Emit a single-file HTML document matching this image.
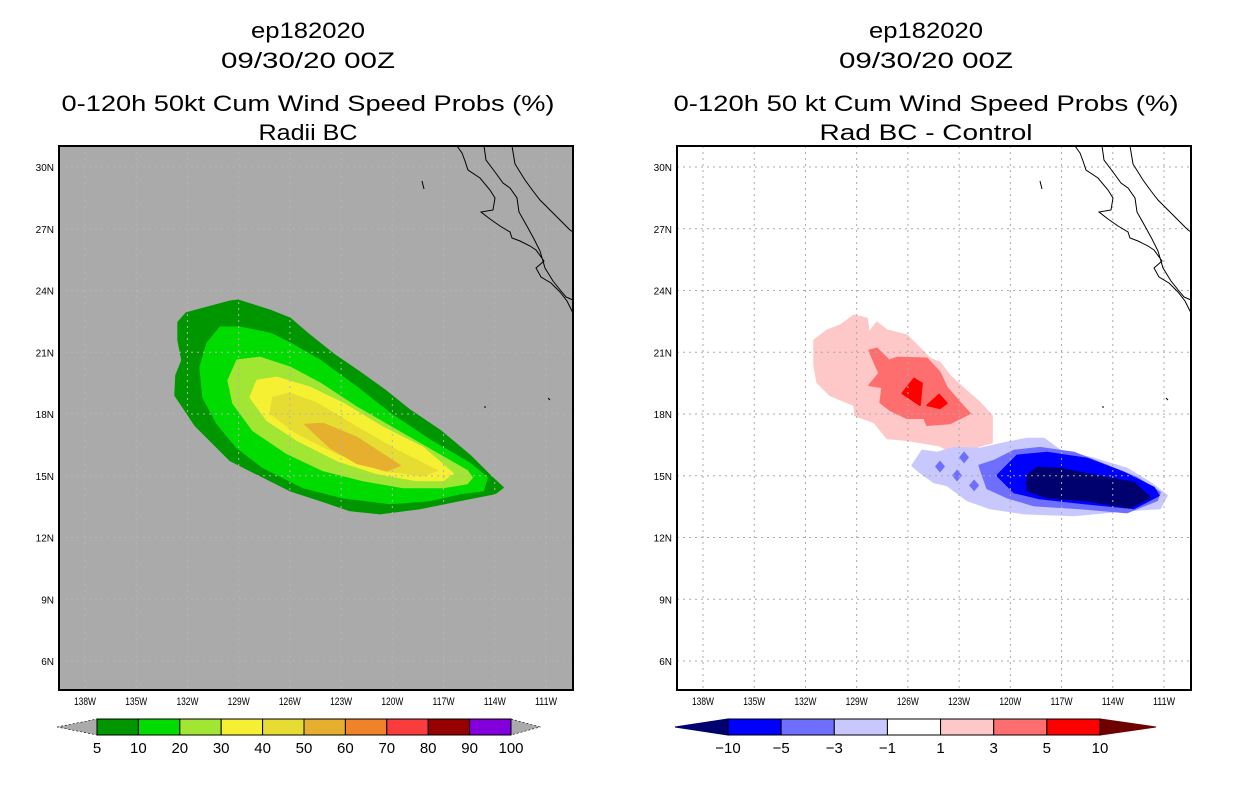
<!DOCTYPE html>
<html><head><meta charset="utf-8">
<style>
body{margin:0;background:#fff;width:1236px;height:800px;overflow:hidden;font-family:"Liberation Sans",sans-serif;}
svg text{font-family:"Liberation Sans",sans-serif;}
</style></head>
<body>
<svg id="chart" width="1236" height="800" viewBox="0 0 1236 800" xmlns="http://www.w3.org/2000/svg"></svg>
<script>
// ---------- data ----------
const lonTicks=[-138,-135,-132,-129,-126,-123,-120,-117,-114,-111];
const latTicks=[30,27,24,21,18,15,12,9,6];
const leftLevels=[5,10,20,30,40,50,60,70,80,90,100];
const leftColors=["#009600","#00dc00","#a0e632","#f5f032","#e6dc32","#e6af2d","#f08228","#fa3c3c","#960000","#8200dc"];
const rightLevels=[-10,-5,-3,-1,1,3,5,10];
const rightColors=["#00006e","#0000ff","#6e6eff","#c8c8ff","#ffffff","#ffc8c8","#ff6e6e","#ff0000","#6e0000"];
// left panel contours [lon,lat]
const prob5=[[-132.55,22.46],[-132.08,22.9],[-131.5,23.04],[-129.5,23.48],[-129.04,23.53],[-127.16,23.04],[-125.99,22.65],[-124.82,21.82],[-123.35,20.85],[-121.89,20.02],[-120.42,19.15],[-118.96,18.18],[-117.2,17.2],[-115.45,15.99],[-114.27,15.01],[-113.51,14.43],[-113.98,14.14],[-116.03,13.8],[-118.38,13.41],[-120.72,13.16],[-122.48,13.31],[-124.23,13.8],[-125.99,14.28],[-127.75,15.01],[-129.5,15.74],[-130.68,16.72],[-131.56,17.45],[-132.14,18.18],[-132.73,18.91],[-132.67,19.88],[-132.32,20.61],[-132.55,21.58]];
const prob10=[[-130.09,22.21],[-128.92,22.21],[-127.16,21.92],[-125.99,21.44],[-124.23,20.61],[-122.07,19.29],[-120.13,18.03],[-117.79,16.72],[-115.45,15.6],[-114.45,14.91],[-114.68,14.28],[-116.03,14.14],[-117.79,13.8],[-120.13,13.65],[-122.89,13.94],[-125.23,14.43],[-127.57,15.4],[-129.1,16.37],[-130.27,17.54],[-131.09,18.81],[-131.26,20.27],[-130.85,21.44]];
const prob20=[[-129.1,20.61],[-127.75,20.75],[-125.99,20.27],[-124.23,19.49],[-122.07,18.32],[-119.72,17.2],[-117.38,16.08],[-115.62,15.25],[-115.33,14.91],[-115.62,14.62],[-117.03,14.43],[-119.37,14.43],[-121.71,14.77],[-124.06,15.26],[-126.17,16.08],[-128.16,17.2],[-129.33,18.52],[-129.62,19.63]];
const prob30=[[-127.92,19.63],[-126.75,19.78],[-124.82,19.29],[-122.89,18.52],[-120.54,17.35],[-118.2,16.37],[-116.44,15.11],[-117.03,14.77],[-118.55,14.77],[-120.89,15.11],[-123.24,15.74],[-125.58,16.72],[-127.34,17.69],[-128.33,18.81]];
const prob40=[[-126.99,18.81],[-125.99,19.0],[-124.41,18.52],[-122.07,17.35],[-119.72,16.23],[-117.38,15.25],[-118.2,15.01],[-120.54,15.25],[-123.24,16.08],[-125.58,17.06],[-127.16,18.03]];
const prob50=[[-125.11,17.49],[-124.06,17.54],[-122.07,16.86],[-119.55,15.5],[-120.31,15.25],[-122.07,15.6],[-123.65,16.37]];
// right panel contours
const diffP1=[[-131.5,21.58],[-130.74,22.07],[-129.97,22.31],[-129.15,22.8],[-128.39,22.65],[-128.28,21.97],[-127.81,22.46],[-127.22,22.07],[-126.05,21.83],[-125.29,21.2],[-124.7,20.69],[-124.12,20.5],[-123.53,19.86],[-122.71,19.23],[-121.77,18.55],[-121.07,17.92],[-121.07,16.61],[-122.36,16.31],[-123.12,15.97],[-124.12,16.46],[-126.05,16.72],[-127.22,16.81],[-127.98,17.59],[-129.1,17.92],[-129.15,18.42],[-130.56,18.91],[-131.32,19.54],[-131.5,20.37]];
const diffP3=[[-128.28,21.09],[-127.81,21.19],[-127.1,20.61],[-126.63,20.75],[-124.88,20.71],[-124.12,20.02],[-123.71,19.29],[-122.94,18.56],[-122.36,18.03],[-123.53,17.54],[-124.88,17.45],[-125.05,17.79],[-126.05,17.79],[-127.04,18.18],[-127.63,18.56],[-127.51,19.29],[-128.28,19.39],[-127.69,19.98]];
const diffP5a=[[-125.64,19.73],[-125.17,19.49],[-125.29,18.42],[-126.34,19.0]];
const diffP5b=[[-124.17,18.95],[-123.71,18.52],[-124.12,18.27],[-124.88,18.42]];
const diffN1=[[-125.76,15.5],[-125.17,16.23],[-124.29,16.13],[-123.3,16.37],[-121.77,16.33],[-120.19,16.62],[-119.02,16.81],[-118.02,16.81],[-117.09,16.23],[-115.09,15.84],[-113.16,15.35],[-111.81,14.67],[-110.82,14.04],[-111.23,13.41],[-113.16,13.31],[-116.27,13.07],[-119.2,13.16],[-121.19,13.41],[-122.53,13.8],[-123.71,14.53],[-124.47,14.67],[-125.29,15.16]];
const diffN3=[[-121.83,15.5],[-120.95,15.74],[-119.78,16.23],[-118.26,16.37],[-116.27,16.13],[-114.33,15.5],[-112.58,14.91],[-111.23,14.19],[-111.4,13.8],[-113.16,13.21],[-115.91,13.41],[-118.61,13.55],[-120.19,13.94],[-121.36,14.38]];
const diffN3spots=[[-124.12,15.45],[-123.12,15.01],[-122.12,14.53],[-122.71,15.89]];
const diffN5=[[-120.78,15.01],[-119.61,15.99],[-117.85,16.13],[-115.5,15.84],[-113.34,15.16],[-111.58,14.43],[-111.29,14.04],[-112.75,13.41],[-115.68,13.65],[-118.26,13.89],[-119.78,14.18]];
const diffN10=[[-119.02,15.01],[-118.43,15.4],[-117.09,15.35],[-114.33,14.91],[-112.75,14.67],[-111.81,13.94],[-112.99,13.45],[-115.68,13.8],[-117.85,13.94],[-119.02,14.28]];

// ---------- drawing ----------
const NS="http://www.w3.org/2000/svg";
const svg=document.getElementById('chart');
function mk(tag,attrs,parent){const e=document.createElementNS(NS,tag);for(const k in attrs)e.setAttribute(k,attrs[k]);(parent||svg).appendChild(e);return e;}
const FRAME={y0:146,y1:690,w:514};
function xScale(ox){return lon=>ox+26+(lon+138)*(461/27);}
function yScale(lat){return 167+(30-lat)*(494/24);}
function polyStr(pts,xs){return pts.map(p=>xs(p[0]).toFixed(1)+","+yScale(p[1]).toFixed(1)).join(" ");}
function txt(x,y,s,size,anchor,parent){const t=mk('text',{x:x,y:y,'font-size':size,'text-anchor':anchor||'middle',fill:'#000'},parent);t.textContent=s;return t;}

function panel(ox,bg,name,titles,widths){
  const g=mk('g',{});
  
  
  const cx=ox+249;
  titles.forEach((s,i)=>{const t=txt(cx,[38,68,111,140][i],s,22,'middle',g);
    t.setAttribute('textLength',widths[i]);t.setAttribute('lengthAdjust','spacingAndGlyphs');
    });
  const bgr=mk('rect',{x:ox,y:FRAME.y0,width:FRAME.w,height:FRAME.y1-FRAME.y0,fill:bg},g);
  
  return g;
}
function grid(ox,g,col){
  const xs=xScale(ox);
  lonTicks.forEach(l=>{const ln=mk('line',{x1:xs(l),x2:xs(l),y1:FRAME.y0,y2:FRAME.y1,stroke:col,'stroke-width':1,'stroke-dasharray':'2,4'},g);
    });
  latTicks.forEach(l=>{const ln=mk('line',{x1:ox,x2:ox+FRAME.w,y1:yScale(l),y2:yScale(l),stroke:col,'stroke-width':1,'stroke-dasharray':'2,4'},g);
    });
}
function axes(ox,g){
  const xs=xScale(ox);
  lonTicks.forEach(l=>{const t=txt(xs(l),705,Math.abs(l)+'W',11,'middle',g);t.setAttribute('textLength',22);t.setAttribute('lengthAdjust','spacingAndGlyphs');
    });
  latTicks.forEach(l=>{const t=txt(ox-5,yScale(l)+4,l+'N',10,'end',g);
    });
  const f=mk('rect',{x:ox,y:FRAME.y0,width:FRAME.w,height:FRAME.y1-FRAME.y0,fill:'none',stroke:'#000','stroke-width':2},g);
  
}
function coast(ox,g){
  const d="M457,146 L462,153 L465,161 L468,170 L480,178 L490,190 L495,198 L493,210 L481,212 L490,219 L500,226 L510,232 L512,238 L520,241 L530,246 L536,250 L544,261 L536,268 L541,277 L551,283 L560,292 L567,301 L573,313 M484,146 L486,160 L495,172 L503,183 L510,188 L517,198 L519,212 L528,228 L534,239 L540,251 L545,268 L553,281 L561,291 L566,297 L573,300 M512,146 L515,164 L525,180 L533,191 L540,200 L552,212 L562,222 L570,230 L573,232 M422,181 L424,189 M484,407 L486,407 M548,398 L550,400";
  const p=mk('path',{d:d,fill:'none',stroke:'#000','stroke-width':1,transform:'translate('+(ox-59)+',0)'},g);
  
}
function poly(pts,xs,col,g,name){const p=mk('polygon',{points:polyStr(pts,xs),fill:col,stroke:col,'stroke-width':1.5,'stroke-linejoin':'round'},g);
  return p;}

// LEFT
const L=panel(59,'#aaaaaa','left-panel',['ep182020','09/30/20 00Z','0-120h 50kt Cum Wind Speed Probs (%)','Radii BC'],[114,174,493,99]);
const xl=xScale(59);
[prob5,prob10,prob20,prob30,prob40,prob50].forEach((c,i)=>poly(c,xl,leftColors[i],L,'contour-'+leftLevels[i]+'pct'));
grid(59,L,'#b4b4b4');coast(59,L);axes(59,L);

// RIGHT
const R=panel(677,'#ffffff','right-panel',['ep182020','09/30/20 00Z','0-120h 50 kt Cum Wind Speed Probs (%)','Rad BC - Control'],[114,174,505,213]);
const xr=xScale(677);
poly(diffP1,xr,rightColors[5],R,'diff-contour-plus1');
poly(diffP3,xr,rightColors[6],R,'diff-contour-plus3');
poly(diffP5a,xr,rightColors[7],R,'diff-contour-plus5');
poly(diffP5b,xr,rightColors[7],R,'diff-contour-plus5');
poly(diffN1,xr,rightColors[3],R,'diff-contour-minus1');
poly(diffN3,xr,rightColors[2],R,'diff-contour-minus3');
diffN3spots.forEach(s=>{const x=xr(s[0]),y=yScale(s[1]);const p=mk('polygon',{points:`${x},${y-6} ${x+5},${y} ${x},${y+6} ${x-5},${y}`,fill:rightColors[2]},R);
  });
poly(diffN5,xr,rightColors[1],R,'diff-contour-minus5');
poly(diffN10,xr,rightColors[0],R,'diff-contour-minus10');
grid(677,R,'#aaaaaa');coast(677,R);axes(677,R);

// COLORBARS
function colorbar(x0,x1,a0,a1,levels,colors,arrowCols,name,dotted){
  const g=mk('g',{});
  
  const y0=719,y1=735,ym=727;
  const nb=colors.length; const w=(x1-x0)/nb;
  const la=mk('polygon',{points:`${a0},${ym} ${x0},${y0} ${x0},${y1}`,fill:arrowCols[0],stroke:dotted?'#000':arrowCols[0],'stroke-dasharray':dotted?'2,2':'none','stroke-width':dotted?0.6:1},g);
  
  const ra=mk('polygon',{points:`${a1},${ym} ${x1},${y0} ${x1},${y1}`,fill:arrowCols[1],stroke:dotted?'#000':arrowCols[1],'stroke-dasharray':dotted?'2,2':'none','stroke-width':dotted?0.6:1},g);
  
  colors.forEach((c,i)=>{const r=mk('rect',{x:x0+i*w,y:y0,width:w,height:y1-y0,fill:c,stroke:'#000','stroke-width':1},g);
    });
  levels.forEach((v,i)=>{const t=txt(x0+i*w,753,v<0?'\u2212'+Math.abs(v):String(v),15,'middle',g);
    });
}
colorbar(97,511,57,540,leftLevels,leftColors,['#aaaaaa','#aaaaaa'],'left-colorbar',true);
colorbar(728,1100,675,1156,rightLevels,rightColors.slice(1,8),[rightColors[0],rightColors[8]],'right-colorbar',false);
</script>
</body></html>
